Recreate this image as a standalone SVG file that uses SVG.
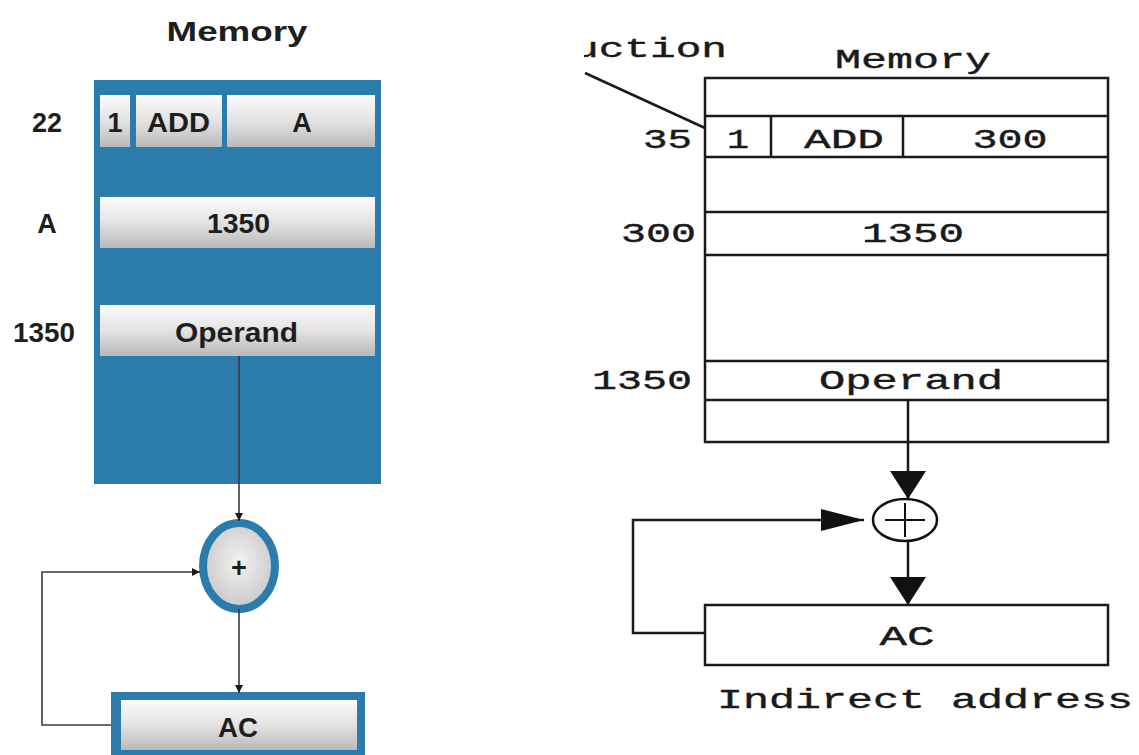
<svg xmlns="http://www.w3.org/2000/svg" width="1139" height="755" viewBox="0 0 1139 755">
<defs>
<style>
.ls{font-family:"Liberation Sans",Arial,sans-serif;font-weight:bold;font-size:27px;fill:#1e1e1e;text-anchor:middle}
.mono{font-family:"Liberation Mono","Courier New",monospace;font-size:27px;fill:#1a1a1a;text-anchor:middle;stroke:#1a1a1a;stroke-width:0.4}
.blue{fill:#2b7bab}
.cell{fill:url(#g)}
.rl{fill:none;stroke:#1a1a1a;stroke-width:2.5}
.lc{fill:none;stroke:#3a3a3a;stroke-width:1.6}
</style>
<linearGradient id="g" x1="0" y1="0" x2="0" y2="1">
<stop offset="0" stop-color="#fbfbfb"/>
<stop offset="0.5" stop-color="#e3e3e3"/>
<stop offset="1" stop-color="#b9b9b9"/>
</linearGradient>
<radialGradient id="rg" cx="0.5" cy="0.45" r="0.6">
<stop offset="0" stop-color="#f2f2f2"/>
<stop offset="1" stop-color="#c4c4c4"/>
</radialGradient>
<marker id="sm" viewBox="0 0 8 8" refX="8" refY="4" markerWidth="8" markerHeight="8" markerUnits="userSpaceOnUse" orient="auto">
<path d="M0,0 L8,4 L0,8 z" fill="#1a1a1a"/>
</marker>
<marker id="bd" viewBox="0 0 28 36" refX="28" refY="18" markerWidth="28" markerHeight="36" markerUnits="userSpaceOnUse" orient="auto">
<path d="M0,0 L28,18 L0,36 z" fill="#111"/>
</marker>
<marker id="br" viewBox="0 0 43 22" refX="43" refY="11" markerWidth="43" markerHeight="22" markerUnits="userSpaceOnUse" orient="auto">
<path d="M0,0 L43,11 L0,22 z" fill="#111"/>
</marker>
<clipPath id="clipU"><rect x="584" y="0" width="200" height="80"/></clipPath>
</defs>
<rect width="1139" height="755" fill="#ffffff"/>

<!-- LEFT DIAGRAM -->
<g id="left-title"><text class="ls" x="237" y="41" font-size="33" textLength="141" lengthAdjust="spacingAndGlyphs">Memory</text></g>
<g id="left-memory">
<rect class="blue" x="94" y="80" width="287" height="404"/>
</g>
<g id="left-labels">
<text class="ls" x="47" y="132">22</text>
<text class="ls" x="47" y="233">A</text>
<text class="ls" x="44" y="342" textLength="62" lengthAdjust="spacingAndGlyphs">1350</text>
</g>
<g id="left-cell-i">
<rect class="cell" x="100" y="95" width="30" height="52"/>
<text class="ls" x="115" y="132">1</text>
</g>
<g id="left-cell-op">
<rect class="cell" x="136" y="95" width="86" height="52"/>
<text class="ls" x="178.5" y="132" textLength="63" lengthAdjust="spacingAndGlyphs">ADD</text>
</g>
<g id="left-cell-addr">
<rect class="cell" x="227" y="95" width="148" height="52"/>
<text class="ls" x="302" y="132">A</text>
</g>
<g id="left-cell-1350">
<rect class="cell" x="100" y="197" width="275" height="51"/>
<text class="ls" x="238.5" y="233" textLength="63" lengthAdjust="spacingAndGlyphs">1350</text>
</g>
<g id="left-cell-operand">
<rect class="cell" x="100" y="305" width="275" height="51"/>
<text class="ls" x="236.5" y="342" textLength="123" lengthAdjust="spacingAndGlyphs">Operand</text>
</g>
<g id="left-adder">
<ellipse cx="239" cy="566" rx="36" ry="43" fill="url(#rg)" stroke="#2b7bab" stroke-width="8"/>
<text class="ls" x="239" y="577" font-size="24">+</text>
</g>
<g id="left-ac">
<rect class="blue" x="111" y="692" width="254" height="63"/>
<rect class="cell" x="121" y="700" width="236" height="50"/>
<text class="ls" x="238" y="737" textLength="40" lengthAdjust="spacingAndGlyphs">AC</text>
</g>
<g id="left-connectors">
<path class="lc" d="M239,356 V521" marker-end="url(#sm)"/>
<path class="lc" d="M239,609 V693" marker-end="url(#sm)"/>
<path class="lc" d="M111,725 H42 V572 H200" marker-end="url(#sm)"/>
</g>

<!-- RIGHT DIAGRAM -->
<g id="right-instruction-label">
<text class="mono" x="650" y="57" textLength="154" lengthAdjust="spacingAndGlyphs" clip-path="url(#clipU)">uction</text>
</g>
<g id="right-title"><text class="mono" x="913" y="68" textLength="156" lengthAdjust="spacingAndGlyphs">Memory</text></g>
<g id="right-memory">
<rect class="rl" x="705" y="78" width="403" height="364"/>
<path class="rl" d="M705,116 H1108 M705,157 H1108 M705,212 H1108 M705,255 H1108 M705,361 H1108 M705,400 H1108 M771,116 V157 M903,116 V157"/>
</g>
<g id="right-labels">
<text class="mono" x="667.5" y="148" textLength="49" lengthAdjust="spacingAndGlyphs">35</text>
<text class="mono" x="658.5" y="242" textLength="75" lengthAdjust="spacingAndGlyphs">300</text>
<text class="mono" x="642" y="389" textLength="100" lengthAdjust="spacingAndGlyphs">1350</text>
</g>
<g id="right-row-35">
<text class="mono" x="738" y="148" textLength="22" lengthAdjust="spacingAndGlyphs">1</text>
<text class="mono" x="844" y="148" textLength="80" lengthAdjust="spacingAndGlyphs">ADD</text>
<text class="mono" x="1010" y="148" textLength="75" lengthAdjust="spacingAndGlyphs">300</text>
</g>
<g id="right-row-300">
<text class="mono" x="913" y="242" textLength="102" lengthAdjust="spacingAndGlyphs">1350</text>
</g>
<g id="right-row-1350">
<text class="mono" x="911" y="389" textLength="184" lengthAdjust="spacingAndGlyphs">Operand</text>
</g>
<g id="right-adder">
<ellipse cx="905" cy="520" rx="32" ry="21" fill="#fff" stroke="#111" stroke-width="2.5"/>
<path d="M885,520 H925 M905,503 V537" stroke="#111" stroke-width="2" fill="none"/>
</g>
<g id="right-ac">
<rect class="rl" x="705" y="605" width="403" height="60"/>
<text class="mono" x="907" y="645" textLength="55" lengthAdjust="spacingAndGlyphs">AC</text>
</g>
<g id="right-caption">
<text class="mono" x="925" y="708" textLength="416" lengthAdjust="spacingAndGlyphs">Indirect address</text>
</g>
<g id="right-connectors">
<path class="rl" d="M585,73 L705,128"/>
<path class="rl" d="M908,400 V499" marker-end="url(#bd)"/>
<path class="rl" d="M908,541 V605" marker-end="url(#bd)"/>
<path class="rl" d="M705,633 H633 V520 H864" marker-end="url(#br)"/>
</g>
</svg>
